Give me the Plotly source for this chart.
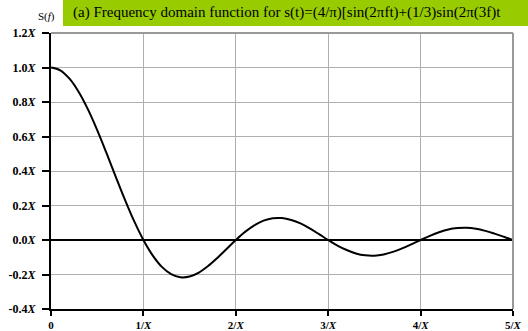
import plotly.graph_objects as go

freq = [i / 10 for i in range(51)]
spectrum = [1.0, 0.984, 0.935, 0.858, 0.757, 0.637, 0.505, 0.368, 0.234, 0.109,
            0.0, -0.089, -0.156, -0.198, -0.216, -0.212, -0.189, -0.151, -0.104, -0.052,
            0.0, 0.047, 0.085, 0.112, 0.126, 0.127, 0.116, 0.096, 0.067, 0.034,
            0.0, -0.032, -0.058, -0.078, -0.089, -0.091, -0.084, -0.069, -0.049, -0.025,
            0.0, 0.024, 0.045, 0.061, 0.069, 0.071, 0.065, 0.053, 0.037, 0.019, 0.0]

x_ticks = [0, 1, 2, 3, 4, 5]
x_labels = ["0", "1/<i>X</i>", "2/<i>X</i>", "3/<i>X</i>", "4/<i>X</i>", "5/<i>X</i>"]
y_ticks = [-0.4, -0.2, 0.0, 0.2, 0.4, 0.6, 0.8, 1.0, 1.2]
y_labels = ["-0.4", "-0.2", "0.0", "0.2", "0.4", "0.6", "0.8", "1.0", "1.2"]

title_text = "(a) Frequency domain function for s(t)=(4/π)[sin(2πft)+(1/3)sin(2π(3f)t"

W, H = 528, 331
L, R, T, B = 51, 15, 33, 22
pw, ph = W - L - R, H - T - B

def px(x):
    return (x - L) / pw

def py(y):
    return (H - B - y) / ph

font = "Liberation Serif, Times New Roman, serif"

fig = go.Figure()
fig.add_trace(go.Scatter(x=freq, y=spectrum, mode="lines",
                         line=dict(color="black", width=2, shape="spline"),
                         hoverinfo="skip", showlegend=False))

fig.update_layout(
    width=W, height=H,
    margin=dict(l=L, r=R, t=T, b=B),
    paper_bgcolor="white", plot_bgcolor="white",
    font=dict(family=font, color="black"),
    xaxis=dict(range=[0, 5], tickvals=x_ticks, ticktext=["<b>%s</b>" % t for t in x_labels],
               showgrid=True, gridcolor="#b0b0b0", gridwidth=1,
               showline=True, linecolor="black", linewidth=2,
               ticks="outside", ticklen=5, tickwidth=2, tickcolor="black",
               ticklabelstandoff=0, automargin=False,
               tickfont=dict(size=11, family=font), zeroline=False, fixedrange=True),
    yaxis=dict(range=[-0.4, 1.2], tickvals=y_ticks,
               ticktext=["<b>%s<i>X</i></b>" % t for t in y_labels],
               showgrid=True, gridcolor="#b0b0b0", gridwidth=1,
               showline=True, linecolor="black", linewidth=2,
               ticks="outside", ticklen=7, tickwidth=2, tickcolor="black",
               ticklabelstandoff=4, automargin=False,
               tickfont=dict(size=12, family=font),
               zeroline=True, zerolinecolor="black", zerolinewidth=2, fixedrange=True),
    shapes=[
        dict(type="line", xref="paper", yref="paper", x0=0, x1=1, y0=1, y1=1,
             line=dict(color="#999999", width=2)),
        dict(type="line", xref="paper", yref="paper", x0=1, x1=1, y0=0, y1=1,
             line=dict(color="#999999", width=2)),
        dict(type="rect", xref="paper", yref="paper", x0=px(63), x1=px(540),
             y0=py(26), y1=py(0), fillcolor="#99cc00", line=dict(width=0), layer="above"),
    ],
    annotations=[
        dict(text=title_text, xref="paper", yref="paper", x=px(71), y=py(13),
             xanchor="left", yanchor="middle", showarrow=False,
             font=dict(size=15, family=font, color="black")),
        dict(text="S(<i>f</i>)", xref="paper", yref="paper", x=px(46), y=py(17),
             xanchor="center", yanchor="middle", showarrow=False,
             font=dict(size=11, family=font, color="black")),
    ],
)

fig.write_html("out.html", config={"displayModeBar": False},
               post_script="document.body.style.margin='0';")
